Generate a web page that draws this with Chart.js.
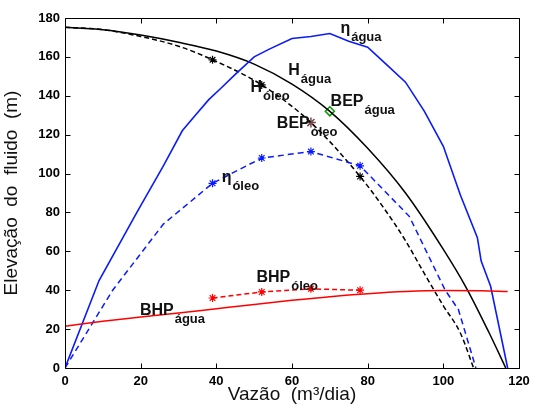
<!DOCTYPE html>
<html>
<head>
<meta charset="utf-8">
<script src="https://cdn.jsdelivr.net/npm/chart.js@4/dist/chart.umd.min.js"></script>
<style>
html,body{margin:0;padding:0;background:#fff;}
#wrap{width:549px;height:414px;}
</style>
</head>
<body>
<div id="wrap"><canvas id="c" width="549" height="414"></canvas></div>
<script>
// ---- data ----
const xTicks = [0, 20, 40, 60, 80, 100, 120];
const yTicks = [0, 20, 40, 60, 80, 100, 120, 140, 160, 180];

const hAguaQ = [0, 10, 20, 30, 40, 50, 60, 70, 80, 90, 100, 106, 112, 116.5];
const hAguaH = [175.2, 174, 171.2, 167.5, 163, 156.3, 146, 132, 113, 90, 61, 41.5, 18.5, 0];

const hOleoQ = [0, 10, 20, 30, 39, 52, 65, 78, 84, 90, 95, 100, 104.5, 108];
const hOleoH = [175.2, 174, 170.5, 165.5, 158.5, 145.6, 126.2, 98.5, 83, 65.5, 48.5, 32, 18, 0];
const hOleoMarkQ = [39, 52, 78];
const hOleoMarkH = [158.5, 145.6, 98.5];

const etaAguaQ = [0, 9, 19, 26, 31, 34, 38, 41, 45, 50, 54, 60, 65, 70, 75, 80, 85, 90, 95, 100, 104.5, 109, 110, 112.5, 117];
const etaAguaV = [0, 45, 80, 104, 122, 129, 138, 143.5, 151, 160, 164, 169.5, 170.5, 172, 168, 165, 156, 147, 132, 114, 89, 67, 55, 42, 0];

const etaOleoQ = [0, 12.6, 26, 39, 52, 65, 78, 91, 100.5, 104, 108.6];
const etaOleoV = [0, 40, 74, 95, 108, 111.3, 104, 78, 40, 30, 0];
const etaOleoMarkQ = [39, 52, 65, 78];
const etaOleoMarkV = [95, 108, 111.3, 104];

const bhpAguaQ = [0, 10, 20, 30, 40, 50, 60, 70, 80, 90, 100, 110, 117];
const bhpAguaV = [21.5, 24, 26.2, 28.3, 30.5, 32.7, 34.8, 36.7, 38.2, 39.3, 39.8, 39.7, 39.3];

const bhpOleoQ = [39, 52, 65, 78];
const bhpOleoV = [36, 39.1, 40.7, 40];

const bepAgua = [70, 132];
const bepOleo = [65, 126.2];

// text labels: [main, sub, anchorQ, anchorValue]
const labels = [
  ['η', 'água', 72.8, 174.5],
  ['H', 'água', 59.0, 152.8],
  ['H', 'óleo', 49.0, 144.2],
  ['BEP', 'água', 70.2, 137.2],
  ['BEP', 'óleo', 56.0, 125.6],
  ['η', 'óleo', 41.4, 97.8],
  ['BHP', 'óleo', 50.6, 46.5],
  ['BHP', 'água', 19.8, 29.4]
];

const pts = (xs, ys) => xs.map((x, i) => ({x: x, y: ys[i]}));

const FONT = '"Liberation Sans", Arial, sans-serif';

const boxPlugin = {
  id: 'box',
  afterDatasetsDraw(chart) {
    const ctx = chart.ctx, a = chart.chartArea;
    const xs = chart.scales.x, ys = chart.scales.y;
    ctx.save();
    ctx.strokeStyle = '#000';
    ctx.lineWidth = 1;
    const L = Math.round(a.left) + 0.5, R = Math.round(a.right) + 0.5;
    const T = Math.round(a.top) + 0.5, B = Math.round(a.bottom) + 0.5;
    ctx.beginPath();
    ctx.rect(L, T, R - L, B - T);
    const tl = 5;
    xTicks.forEach(v => {
      const p = Math.round(xs.getPixelForValue(v)) + 0.5;
      ctx.moveTo(p, B); ctx.lineTo(p, B - tl);
      ctx.moveTo(p, T); ctx.lineTo(p, T + tl);
    });
    yTicks.forEach(v => {
      const p = Math.round(ys.getPixelForValue(v)) + 0.5;
      ctx.moveTo(L, p); ctx.lineTo(L + tl, p);
      ctx.moveTo(R, p); ctx.lineTo(R - tl, p);
    });
    ctx.stroke();

    // annotations
    ctx.fillStyle = '#111';
    ctx.textBaseline = 'middle';
    ctx.textAlign = 'left';
    labels.forEach(l => {
      const px = xs.getPixelForValue(l[2]);
      const py = ys.getPixelForValue(l[3]);
      ctx.font = 'bold 16px ' + FONT;
      ctx.fillText(l[0], px, py);
      const w = ctx.measureText(l[0]).width;
      ctx.font = 'bold 13px ' + FONT;
      ctx.fillText(l[1], px + w + 1, py + 9);
    });
    ctx.restore();
  }
};

const line = (data, color, dash, extra) => Object.assign({
  data: data, borderColor: color, backgroundColor: color, borderWidth: 1.5,
  borderDash: dash, showLine: true, pointRadius: 0, fill: false, tension: 0
}, extra || {});

new Chart(document.getElementById('c'), {
  type: 'scatter',
  data: {
    datasets: [
      line(pts(bhpAguaQ, bhpAguaV), '#ff0000', [], {cubicInterpolationMode: 'monotone'}),
      line(pts(bhpOleoQ, bhpOleoV), '#ff0000', [5, 3], {pointStyle: 'star', pointRadius: 4, pointBorderWidth: 1.2}),
      line(pts(etaAguaQ, etaAguaV), '#0a1aff', [], {borderWidth: 1.6}),
      line(pts(etaOleoQ, etaOleoV), '#0a1aff', [6, 4], {}),
      line(pts(etaOleoMarkQ, etaOleoMarkV), '#0a1aff', [], {showLine: false, pointStyle: 'star', pointRadius: 4, pointBorderWidth: 1.2}),
      line(pts(hAguaQ, hAguaH), '#000000', [], {cubicInterpolationMode: 'monotone'}),
      line(pts(hOleoQ, hOleoH), '#000000', [5, 3], {cubicInterpolationMode: 'monotone'}),
      line(pts(hOleoMarkQ, hOleoMarkH), '#000000', [], {showLine: false, pointStyle: 'star', pointRadius: 4, pointBorderWidth: 1.2}),
      line([{x: bepAgua[0], y: bepAgua[1]}], '#009900', [], {showLine: false, pointStyle: 'rectRot', pointRadius: 4.5, pointBorderWidth: 1.5, backgroundColor: 'rgba(0,0,0,0)'}),
      line([{x: bepOleo[0], y: bepOleo[1]}], '#7a4a4a', [], {showLine: false, pointStyle: 'star', pointRadius: 5, pointBorderWidth: 1.5})
    ]
  },
  options: {
    responsive: false,
    animation: false,
    events: [],
    layout: {padding: {left: 0, right: 30, top: 18, bottom: 0}},
    plugins: {legend: {display: false}, tooltip: {enabled: false}},
    scales: {
      x: {
        type: 'linear', min: 0, max: 120,
        afterBuildTicks: s => { s.ticks = xTicks.map(v => ({value: v})); },
        afterFit: s => { s.height = 46; },
        grid: {display: false, drawTicks: false},
        border: {display: false},
        ticks: {color: '#000', font: {family: FONT, size: 13, weight: 'bold'}, padding: 6, maxRotation: 0},
        title: {display: true, text: 'Vazão  (m³/dia)', color: '#111', font: {family: FONT, size: 19}, padding: {top: 0, bottom: 8}}
      },
      y: {
        type: 'linear', min: 0, max: 180,
        afterBuildTicks: s => { s.ticks = yTicks.map(v => ({value: v})); },
        afterFit: s => { s.width = 65; },
        grid: {display: false, drawTicks: false},
        border: {display: false},
        ticks: {color: '#000', font: {family: FONT, size: 13, weight: 'bold'}, padding: 5},
        title: {display: true, text: 'Elevação  do  fluido  (m)', color: '#111', font: {family: FONT, size: 19}, padding: {top: 0, bottom: 2}}
      }
    }
  },
  plugins: [boxPlugin]
});
</script>
</body>
</html>
